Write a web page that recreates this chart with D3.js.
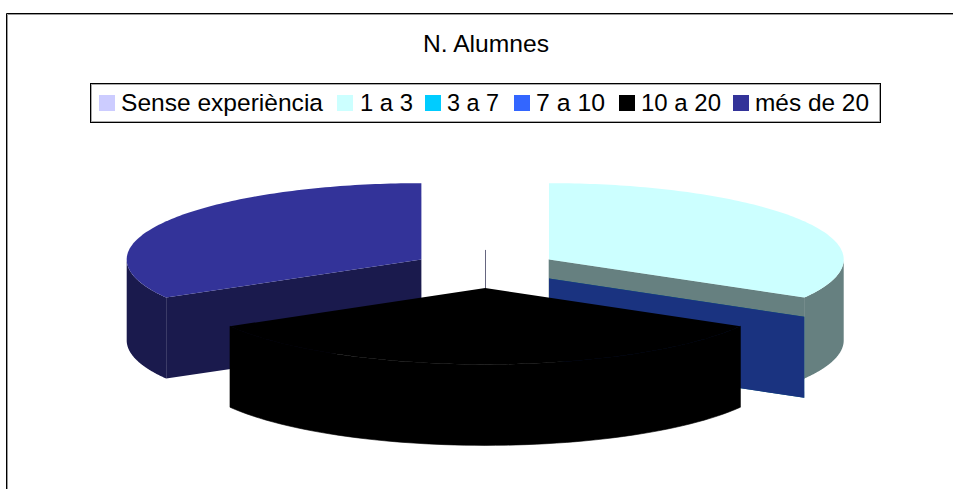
<!DOCTYPE html>
<html>
<head>
<meta charset="utf-8">
<script src="https://cdn.jsdelivr.net/npm/d3@7"></script>
<style>
html, body { margin: 0; padding: 0; background: #fff; overflow: hidden; }
svg { display: block; }
text { font-family: "Liberation Sans", Arial, sans-serif; fill: #000; }
</style>
</head>
<body>
<script>
// Exploded 3D pie: number of pupils by years of experience.
const chartTitle = "N. Alumnes";
const categories = ["Sense experiència", "1 a 3", "3 a 7", "7 a 10", "10 a 20", "més de 20"];
const values = [0, 1, 0, 0, 1, 1];
const colours = ["#ccccff", "#ccffff", "#00ccff", "#3366ff", "#000000", "#333399"];
const legendSwatchX = [99, 337, 425, 514, 619, 733];
const legendLabelX = [121, 360, 447, 536, 641, 755];
const legendLabelW = [202, 53, 52, 69, 80, 114];

const width = 953, height = 489;
const radiusX = 294.7, radiusY = 76.3, depth = 81;
const explode = 0.25;
const centre = { x: 485.2, y: 269 };

const svg = d3.select("body").append("svg").attr("width", width).attr("height", height);

// Chart frame: a black rule with a soft grey edge
svg.append("path").attr("d", "M7.5,489V14.5H953")
  .attr("fill", "none").attr("stroke", "#999").attr("stroke-width", 1);
svg.append("path").attr("d", "M6.5,489V13.5H953")
  .attr("fill", "none").attr("stroke", "#000").attr("stroke-width", 1);

svg.append("text").attr("x", 486).attr("y", 52)
  .attr("text-anchor", "middle").attr("font-size", 24)
  .attr("textLength", 126).attr("lengthAdjust", "spacingAndGlyphs")
  .text(chartTitle);

// Legend
const legend = svg.append("g");
legend.append("rect").attr("x", 91.5).attr("y", 84.5).attr("width", 788).attr("height", 37)
  .attr("fill", "#fff").attr("stroke", "#aaa");
legend.append("rect").attr("x", 90.5).attr("y", 83.5).attr("width", 790).attr("height", 39)
  .attr("fill", "none").attr("stroke", "#000");
categories.forEach((name, i) => {
  legend.append("rect").attr("x", legendSwatchX[i]).attr("y", 95)
    .attr("width", 16).attr("height", 16).attr("fill", colours[i]);
  legend.append("text").attr("x", legendLabelX[i]).attr("y", 111)
    .attr("font-size", 24.5)
    .attr("textLength", legendLabelW[i]).attr("lengthAdjust", "spacingAndGlyphs")
    .text(name);
});

// Angles are clockwise from twelve o'clock.
const pie = d3.pie().sort(null).startAngle(0).endAngle(2 * Math.PI);
const slices = pie(values).map((d, i) => {
  const mid = (d.startAngle + d.endAngle) / 2;
  return {
    ...d,
    colour: colours[i],
    side: shade(colours[i]),
    cx: centre.x + Math.sin(mid) * explode * radiusX,
    cy: centre.y - Math.cos(mid) * explode * radiusY
  };
});

function shade(c) {
  const r = d3.rgb(c);
  return d3.rgb(r.r / 2, r.g / 2, r.b / 2).formatHex();
}

const rimX = (s, a) => s.cx + Math.sin(a) * radiusX;
const rimY = (s, a) => s.cy - Math.cos(a) * radiusY;
const outline = d3.line();

// Wall of a slice following its rim between two angles.
function rimWall(s, a0, a1) {
  const angles = d3.range(0, 61).map(k => a0 + (a1 - a0) * k / 60);
  const top = angles.map(a => [rimX(s, a), rimY(s, a)]);
  const bottom = angles.slice().reverse().map(a => [rimX(s, a), rimY(s, a) + depth]);
  return outline(top.concat(bottom)) + "Z";
}

// Flat cut wall running from the slice centre to the rim.
function cutWall(s, a) {
  return outline([
    [s.cx, s.cy], [rimX(s, a), rimY(s, a)],
    [rimX(s, a), rimY(s, a) + depth], [s.cx, s.cy + depth]
  ]) + "Z";
}

function topFace(s) {
  const angles = d3.range(0, 121).map(k => s.startAngle + (s.endAngle - s.startAngle) * k / 120);
  return outline([[s.cx, s.cy]].concat(angles.map(a => [rimX(s, a), rimY(s, a)]))) + "Z";
}

const pieLayer = svg.append("g");
const addFace = (d, fill) => pieLayer.append("path").attr("d", d).attr("fill", fill);

// Back to front: the two rear sectors, the empty sectors, then the front sector.
const drawOrder = [0, 5, 1, 2, 3, 4];
drawOrder.forEach(i => {
  const s = slices[i];
  if (s.endAngle === s.startAngle) {
    if (s.startAngle === 0) {
      // An empty sector at twelve o'clock shows only its inner edge.
      pieLayer.append("path")
        .attr("d", outline([[s.cx, s.cy], [s.cx, s.cy + depth]]))
        .attr("transform", "translate(0.3,0)")
        .attr("fill", "none").attr("stroke", s.side).attr("stroke-width", 1);
    } else {
      addFace(cutWall(s, s.startAngle), s.side);
    }
    return;
  }
  if (i === 1) {
    addFace(rimWall(s, Math.PI / 2, s.endAngle), s.side);
    addFace(cutWall(s, s.endAngle), s.side)
      .attr("stroke", s.side).attr("stroke-width", 0.6);
  } else if (i === 5) {
    addFace(rimWall(s, s.startAngle, 3 * Math.PI / 2), s.side);
    addFace(cutWall(s, s.startAngle), s.side);
  } else {
    // The front sector is one solid colour; close the seam along its rim.
    addFace(rimWall(s, s.startAngle, s.endAngle), s.side)
      .attr("stroke", s.side).attr("stroke-width", 0.6);
  }
  addFace(topFace(s), s.colour);
});
</script>
</body>
</html>
